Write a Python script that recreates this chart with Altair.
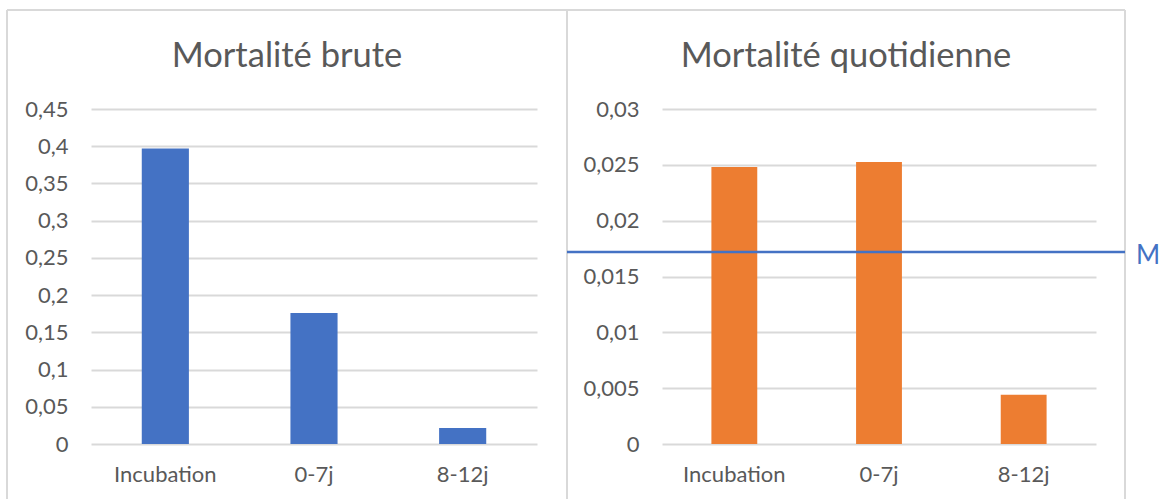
import altair as alt
import pandas as pd

# ---- data ----
categories = ["Incubation", "0-7j", "8-12j"]
brute_values = [0.397, 0.176, 0.0215]
quot_values = [0.0248, 0.02525, 0.0044]
m_value = 0.0172
m_label = "M"
title_left = "Mortalité brute"
title_right = "Mortalité quotidienne"
brute_ticks = [0, 0.05, 0.1, 0.15, 0.2, 0.25, 0.3, 0.35, 0.4, 0.45]
quot_ticks = [0, 0.005, 0.01, 0.015, 0.02, 0.025, 0.03]

# ---- style ----
FONT = "Lato"
TXT = "#595959"
GRID = "#D9D9D9"
BLUE = "#4472C4"
ORANGE = "#ED7D31"
W_L, W_R, H = 446, 434, 335
label_expr = "replace(format(datum.value, '~g'), '.', ',')"

one = pd.DataFrame({"k": [0]})


def panel(values, ticks, color, width, title, title_x):
    df = pd.DataFrame({"cat": categories, "val": values})
    yscale = alt.Scale(domain=[ticks[0], ticks[-1]], nice=False, zero=True)
    bars = alt.Chart(df).mark_bar(color=color).encode(
        x=alt.X(
            "cat:N",
            sort=categories,
            title=None,
            scale=alt.Scale(paddingInner=0.683, paddingOuter=0.3415),
            axis=alt.Axis(
                labelAngle=0, domain=False, ticks=False, labelFont=FONT,
                labelFontSize=22, labelColor=TXT, labelPadding=20,
            ),
        ),
        y=alt.Y(
            "val:Q",
            title=None,
            scale=yscale,
            axis=alt.Axis(
                values=ticks, labelExpr=label_expr, domain=False, ticks=False,
                grid=True, gridColor=GRID, gridWidth=2, labelFont=FONT,
                labelFontSize=22, labelColor=TXT, labelPadding=23,
            ),
        ),
    )
    ttl = alt.Chart(one).mark_text(
        font=FONT, fontSize=34.5, color=TXT, align="center", baseline="alphabetic"
    ).encode(x=alt.value(title_x), y=alt.value(-42), text=alt.value(title))
    return bars, ttl, yscale


# left panel
bars_l, ttl_l, _ = panel(brute_values, brute_ticks, BLUE, W_L, title_left, 196)
border_l = [
    alt.Chart(one).mark_rule(color=GRID, strokeWidth=2).encode(
        x=alt.value(-84), y=alt.value(-99), y2=alt.value(390)),
    alt.Chart(one).mark_rule(color=GRID, strokeWidth=2).encode(
        x=alt.value(-84), x2=alt.value(476), y=alt.value(-99)),
    alt.Chart(one).mark_rule(color=GRID, strokeWidth=2).encode(
        x=alt.value(476), y=alt.value(-99), y2=alt.value(390)),
]
left = alt.layer(*border_l, bars_l, ttl_l).properties(width=W_L, height=H)

# right panel
bars_r, ttl_r, yscale_r = panel(quot_values, quot_ticks, ORANGE, W_R, title_right, 184)
border_r = [
    alt.Chart(one).mark_rule(color=GRID, strokeWidth=2).encode(
        x=alt.value(-95), x2=alt.value(463), y=alt.value(-99)),
    alt.Chart(one).mark_rule(color=GRID, strokeWidth=2).encode(
        x=alt.value(463), y=alt.value(-99), y2=alt.value(390)),
]
mdf = pd.DataFrame({"val": [m_value], "lab": [m_label]})
m_rule = alt.Chart(mdf).mark_rule(color=BLUE, strokeWidth=2.5).encode(
    y=alt.Y("val:Q", title=None, scale=yscale_r),
    x=alt.value(-95), x2=alt.value(463),
)
m_text = alt.Chart(mdf).mark_text(
    font=FONT, fontSize=26, color=BLUE, align="left", baseline="middle", dy=4
).encode(
    y=alt.Y("val:Q", title=None, scale=yscale_r),
    x=alt.value(474),
    text="lab:N",
)
right = alt.layer(*border_r, bars_r, m_rule, m_text, ttl_r).properties(width=W_R, height=H)

chart = alt.hconcat(left, right, spacing=125, bounds="flush").properties(
    padding={"left": 6, "top": 9, "right": 0, "bottom": 0},
    background="white",
).configure_view(stroke=None)

chart.save("out.html", embed_options={"renderer": "svg", "actions": False})
